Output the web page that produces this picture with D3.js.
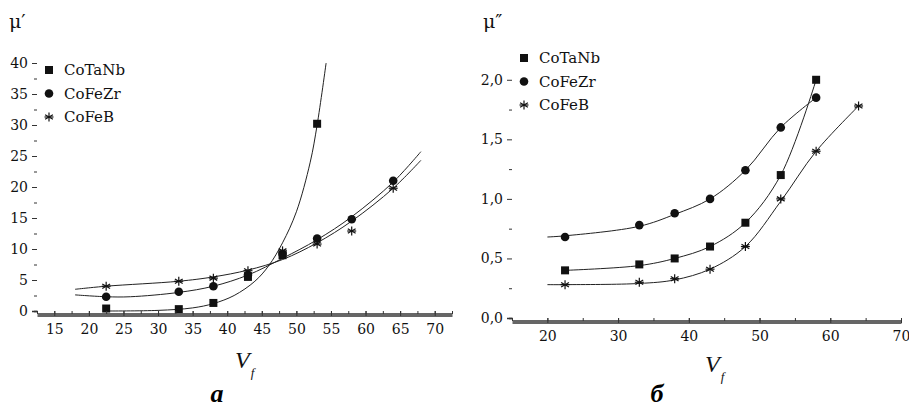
<!DOCTYPE html>
<html><head><meta charset="utf-8">
<script src="https://cdn.jsdelivr.net/npm/d3@7"></script>
<style>body{margin:0;background:#fff}svg{font-family:"DejaVu Serif","Liberation Serif",serif}</style>
</head><body><svg id="c" width="909" height="408"></svg>
<script>
// Left panel (a): mu'
var seriesNames = ['CoTaNb', 'CoFeZr', 'CoFeB']
var vfA = [[22.5, 33, 38, 43, 48, 53], [22.5, 33, 38, 43, 48, 53, 58, 64], [22.5, 33, 38, 43, 48, 53, 58, 64]]
var muA = [[0.4, 0.3, 1.3, 5.5, 9, 30.2], [2.3, 3.1, 4.0, 5.8, 9.2, 11.7, 14.8, 21], [4.0, 4.8, 5.3, 6.5, 9.7, 10.8, 12.9, 19.8]]
// fitted curves
var fitXA = [[22.5, 30, 35, 38, 41, 44, 46, 48, 50, 52, 53, 54.3], [18, 22.5, 26, 33, 38, 43, 48, 53, 58, 64, 68], [18, 22.5, 33, 38, 43, 48, 53, 58, 64, 68]]
var fitYA = [[0, 0.1, 0.5, 1.2, 2.5, 4.8, 7.3, 11, 16, 24, 30, 40], [2.6, 2.3, 2.3, 3.0, 4.0, 5.8, 8.5, 11.5, 15.2, 20.8, 25.7], [3.5, 4.0, 4.8, 5.5, 6.6, 8.3, 11, 14.5, 19.8, 24.3]]

// Right panel (б): mu''
var vfB = [[22.5, 33, 38, 43, 48, 53, 58], [22.5, 33, 38, 43, 48, 53, 58], [22.5, 33, 38, 43, 48, 53, 58, 64]]
var muB = [[0.40, 0.45, 0.50, 0.60, 0.80, 1.20, 2.00], [0.68, 0.78, 0.88, 1.00, 1.24, 1.60, 1.85], [0.28, 0.30, 0.33, 0.41, 0.60, 1.00, 1.40, 1.78]]
var fitXB = [[22.5, 33, 38, 43, 48, 53, 58], [20, 22.5, 33, 38, 43, 48, 53, 58], [20, 22.5, 33, 38, 43, 48, 53, 58, 64]]
var fitYB = [[0.40, 0.44, 0.50, 0.60, 0.80, 1.20, 2.00], [0.68, 0.69, 0.77, 0.87, 1.00, 1.24, 1.60, 1.85], [0.28, 0.28, 0.29, 0.32, 0.41, 0.60, 0.98, 1.40, 1.78]]

var svg = d3.select('#c')

function star(g, x, y) {
      var r = 4.5
      ;[0, 60, 120].forEach(a => {
            var dx = r * Math.sin(a * Math.PI / 180), dy = r * Math.cos(a * Math.PI / 180)
            g.append('line').attr('x1', x - dx).attr('y1', y - dy).attr('x2', x + dx).attr('y2', y + dy)
                  .attr('stroke', '#111').attr('stroke-width', 1.2)
      })
      g.append('line').attr('x1', x - r).attr('y1', y).attr('x2', x + r).attr('y2', y).attr('stroke', '#111').attr('stroke-width', 1.2)
}
function marker(g, k, x, y) {
      if (k == 0) g.append('rect').attr('x', x - 4).attr('y', y - 4).attr('width', 8).attr('height', 8).attr('fill', '#111')
      else if (k == 1) g.append('circle').attr('cx', x).attr('cy', y).attr('r', 4.3).attr('fill', '#111')
      else star(g, x, y)
}

function panel(o) {
      var x = d3.scaleLinear().domain(o.xd).range([o.left, o.right])
      var y = d3.scaleLinear().domain(o.yd).range([o.bottom, o.top])
      var g = svg.append('g')
      var line = d3.line().x(d => x(d[0])).y(d => y(d[1])).curve(d3.curveCatmullRom.alpha(0.5))
      o.fx.forEach((xs, i) => {
            g.append('path').attr('d', line(xs.map((v, j) => [v, o.fy[i][j]])))
                  .attr('fill', 'none').attr('stroke', '#222').attr('stroke-width', 1)
      })
      o.px.forEach((xs, i) => xs.forEach((v, j) => marker(g, i, x(v), y(o.py[i][j]))))

      var xa = g.append('g').attr('transform', `translate(0,${o.bottom})`)
            .call(d3.axisBottom(x).tickValues(o.xt).tickFormat(d3.format('d')).tickSize(5).tickPadding(8))
      xa.append('g').call(d3.axisBottom(x).tickValues(o.xm).tickFormat('').tickSize(3))
      var ya = g.append('g').attr('transform', `translate(${o.left},0)`)
            .call(d3.axisLeft(y).tickValues(o.yt).tickFormat(o.yf).tickSize(5).tickPadding(4))
      ya.append('g').call(d3.axisLeft(y).tickValues(o.ym).tickFormat('').tickSize(3))
      g.selectAll('.tick text').style('font-size', '14px').style('font-family', '"DejaVu Serif",serif').attr('fill', '#111')
      g.selectAll('.domain').attr('stroke', '#333').attr('stroke-width', 1.3)
      g.selectAll('.tick line').attr('stroke', '#333')
      // trim domain end caps
      g.selectAll('.domain').attr('d', function () { return d3.select(this).attr('d').replace(/V-?\d+(\.\d+)?/g, '').replace(/H-?\d+(\.\d+)?V/g, 'V') })

      seriesNames.forEach((n, i) => {
            var ly = o.legTop + i * 23.5
            marker(g, i, o.left + 12, ly)
            g.append('text').attr('x', o.left + 27).attr('y', ly + 5).text(n).style('font-size', '15px').attr('fill', '#111')
      })
      g.append('text').attr('x', o.ylx).attr('y', 28).text(o.ylab).style('font-size', '19px').attr('fill', '#111')
      var vt = g.append('text').attr('x', o.vx).attr('y', o.vy).style('font-size', '24px').attr('font-style', 'italic').attr('fill', '#111')
            .style('font-family', '"Liberation Serif",serif')
      vt.append('tspan').text('V')
      vt.append('tspan').text('f').style('font-size', '13px').attr('dy', 9).attr('dx', 1)
      g.append('text').attr('x', o.lx).attr('y', 402).text(o.letter).style('font-size', '26px').attr('font-style', 'italic')
            .attr('font-weight', 'bold').attr('text-anchor', 'middle').style('font-family', '"Liberation Serif",serif')
}

panel({ xd: [12.5, 72.5], yd: [0, 40], left: 37, right: 452, top: 63, bottom: 311,
      fx: fitXA, fy: fitYA, px: vfA, py: muA,
      xt: d3.range(15, 71, 5), xm: d3.range(12.5, 73, 2.5), yt: d3.range(0, 41, 5), ym: d3.range(2.5, 40, 5),
      yf: d3.format('d'), legTop: 70, ylx: 9, ylab: 'μ′', vx: 235, vy: 368, lx: 217, letter: 'а' })

panel({ xd: [15, 70], yd: [0, 2.25], left: 512, right: 901, top: 50, bottom: 318,
      fx: fitXB, fy: fitYB, px: vfB, py: muB,
      xt: d3.range(20, 71, 10), xm: d3.range(15, 71, 5), yt: [0, 0.5, 1, 1.5, 2], ym: [0.25, 0.75, 1.25, 1.75],
      yf: d => d3.format('.1f')(d).replace('.', ','), legTop: 58, ylx: 483, ylab: 'μ″', vx: 705, vy: 372, lx: 657, letter: 'б' })
</script></body></html>
